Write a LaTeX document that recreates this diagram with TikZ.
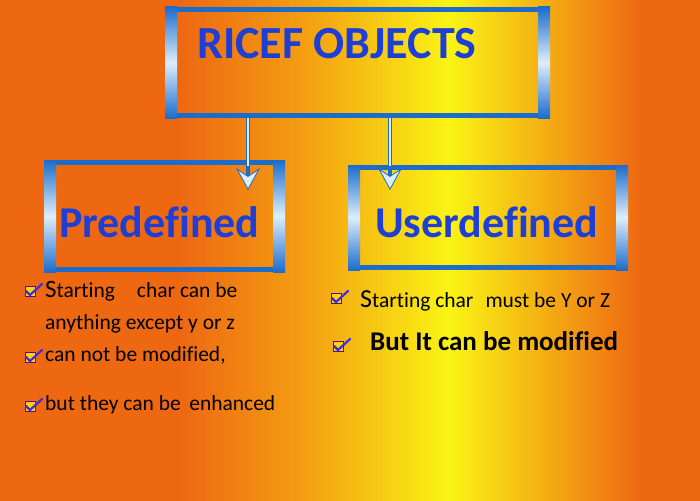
\documentclass[tikz,border=0pt]{standalone}
\usepackage{fontspec}
\setmainfont{Carlito}[Ligatures=NoCommon]
\usetikzlibrary{arrows.meta, positioning}
\definecolor{bgorange}{HTML}{EE6812}
\definecolor{bgmid}{HTML}{F4A012}
\definecolor{bgyellow}{HTML}{FAF414}
\definecolor{edgeblue}{HTML}{1C6CCC}
\definecolor{shineblue}{HTML}{DDEEFB}
\definecolor{titleblue}{HTML}{1D3FD6}
\definecolor{tickblue}{HTML}{3B2FE2}

% 25bp..75bp span the picture width
\pgfdeclarehorizontalshading{bgshade}{100bp}{color(0bp)=(bgorange); color(37.9bp)=(bgorange);
	color(47bp)=(bgmid); color(57.1bp)=(bgyellow); color(70.7bp)=(bgorange); color(100bp)=(bgorange)}

\tikzset{
	pics/chkbox/.style={code={
		\draw[violet!70!blue, line width=0.6pt, fill=orange!35!yellow] (-7,-4) rectangle (3,6);
		\draw[tickblue, line width=2.2pt, line cap=round, line join=round] (-6,1) -- (-2,5) -- (10,-6);
	}}
}

\begin{document}
\begin{tikzpicture}[
			x=1pt, y=-1pt,
			box/.style={draw=edgeblue, line width=5pt, inner sep=0pt},
			heading/.style={text=titleblue, inner sep=0pt, anchor=base west},
			item/.style={font=\fontsize{21.5}{24}\selectfont, inner sep=0pt, anchor=base west}
			]

			% background
			\shade[shading=bgshade] (0,0) rectangle (700,500);
			\useasboundingbox (0,0) rectangle (700,500);

			\node[box, minimum width=380pt, minimum height=106pt] (title) at (357.5,62.5) {};
			\node[box, minimum width=236pt, minimum height=107pt] (pre) at (164.5,216) {};
			\node[box, minimum width=275pt, minimum height=100pt] (user) at (488,217.5) {};

			\foreach \n in {title, pre, user} {
				\shade[top color=edgeblue, bottom color=edgeblue, middle color=shineblue]
					(\n.north west) rectangle ([xshift=12pt]\n.south west);
				\shade[top color=edgeblue, bottom color=edgeblue, middle color=shineblue]
					(\n.north east) rectangle ([xshift=-12pt]\n.south east);
			}

			\node[heading, font=\fontsize{46}{50}\selectfont\bfseries] (titletext) at (197,59) {RICEF OBJECTS};
			\node[heading, font=\fontsize{44}{48}\selectfont\bfseries] (pretext) at (59,237) {Predefined};
			\node[heading, font=\fontsize{44}{48}\selectfont\bfseries] (usertext) at (375,237) {Userdefined};

			\coordinate (tipL) at (248,190);
			\coordinate (tipR) at (390,190);
			\foreach \c in {tipL, tipR} {
				\draw[line width=4.5pt, edgeblue, -{Stealth[length=22pt, width=24pt, inset=8pt, line width=0.8pt, fill=shineblue]}]
					(title.south -| \c) -- (\c);
				\draw[line width=1.4pt, shineblue, shorten >=24pt] (title.south -| \c) -- (\c);
			}

			% left list
			\pic at (32,290) {chkbox};
			\node[item] (l1) at (45,297) {{\fontsize{25}{28}\selectfont S}tarting\hspace{22pt}char can be};
			\node[item] (l2) at (45,329) {anything except y or z};
			\pic at (32,356) {chkbox};
			\node[item] (l3) at (45,361) {can not be modified,};
			\pic at (32,405) {chkbox};
			\node[item] (l4) at (45,410) {but they can be\, enhanced};

			% right list
			\pic at (338,297) {chkbox};
			\node[item] (r1) at (360,307) {{\fontsize{26}{28}\selectfont S}tarting char\,\, must be Y or Z};
			\pic at (340,345) {chkbox};
			\node[item, font=\fontsize{27}{30}\selectfont\bfseries] (r2) at (370,350) {But It can be modified};

		\end{tikzpicture}
\end{document}
